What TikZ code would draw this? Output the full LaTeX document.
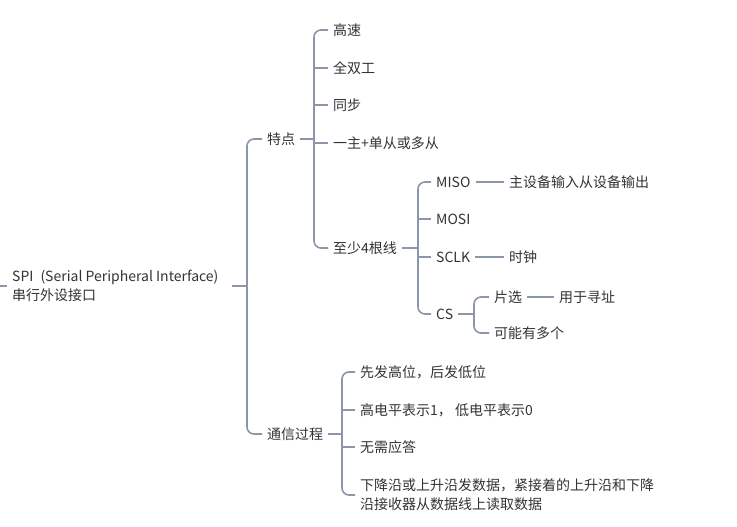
\documentclass[tikz,border=0pt]{standalone}
\usepackage{fontspec}
\setmainfont{Noto Sans CJK SC}
\definecolor{linkgray}{HTML}{8C96AA}
\definecolor{textgray}{HTML}{333333}
\tikzset{
  topic/.style={anchor=west, inner xsep=5pt, inner ysep=0pt, text=textgray,
    font=\fontsize{14}{19}\selectfont},
  branch/.style={draw=linkgray, line width=1.6pt, rounded corners=7pt},
}
\begin{document}
\begin{tikzpicture}[x=1pt, y=-1pt]
    % Canvas
    \useasboundingbox (0,0) rectangle (737,527);

    % Root
    \node[topic, align=left] (spi) at (7,286) {SPI\hspace{7pt}(Serial Peripheral Interface)\\串行外设接口};
    \coordinate (edge) at (0,286);
    \coordinate (spiend) at (232,286);
    \coordinate (spibar) at (247,286);
    \draw[branch] (edge) -- (spi.west);

    % First level
    \node[topic] (feat) at (262,139) {特点};
    \node[topic] (comm) at (262,434) {通信过程};
    \draw[branch] (spiend) -- (spibar);
    \draw[branch] (feat.west) -| (spibar) |- (comm.west);

    % Features
    \node[topic] (fast) at (328,30) {高速};
    \node[topic] (duplex) at (328,68) {全双工};
    \node[topic] (sync) at (328,105) {同步};
    \node[topic] (master) at (328,143) {一主+单从或多从};
    \node[topic] (wires) at (328,248) {至少4根线};
    \coordinate (featbar) at (314,139);
    \draw[branch] (feat.east) -- (featbar);
    \draw[branch] (fast.west) -| (featbar) |- (wires.west);
    \foreach \n in {duplex,sync,master} \draw[branch] (\n.west -| featbar) -- (\n.west);

    % Wires
    \node[topic] (miso) at (431,182) {MISO};
    \node[topic] (mosi) at (431,219) {MOSI};
    \node[topic] (sclk) at (431,257) {SCLK};
    \node[topic] (cs) at (431,314) {CS};
    \coordinate (wirebar) at (418,248);
    \draw[branch] (wires.east) -- (wirebar);
    \draw[branch] (miso.west) -| (wirebar) |- (cs.west);
    \foreach \n in {mosi,sclk} \draw[branch] (\n.west -| wirebar) -- (\n.west);

    % Wire details
    \node[topic] (misotext) at (504,182) {主设备输入从设备输出};
    \node[topic] (clock) at (504,257) {时钟};
    \draw[branch] (miso.east) -- (misotext.west);
    \draw[branch] (sclk.east) -- (clock.west);

    % Chip select
    \node[topic] (select) at (489,297) {片选};
    \node[topic] (many) at (489,333) {可能有多个};
    \node[topic] (addr) at (554,297) {用于寻址};
    \coordinate (csbar) at (474,314);
    \draw[branch] (cs.east) -- (csbar);
    \draw[branch] (select.west) -| (csbar) |- (many.west);
    \draw[branch] (select.east) -- (addr.west);

    % Communication
    \node[topic] (msb) at (355,372) {先发高位，后发低位};
    \node[topic] (level) at (355,410) {高电平表示1，\ 低电平表示0};
    \node[topic] (noack) at (355,447) {无需应答};
    \node[topic, align=left] (edges) at (355,495) {下降沿或上升沿发数据，紧接着的上升沿和下降\\沿接收器从数据线上读取数据};
    \coordinate (commbar) at (342,434);
    \draw[branch] (comm.east) -- (commbar);
    \draw[branch] (msb.west) -| (commbar) |- (edges.west);
    \foreach \n in {level,noack} \draw[branch] (\n.west -| commbar) -- (\n.west);
\end{tikzpicture}
\end{document}
